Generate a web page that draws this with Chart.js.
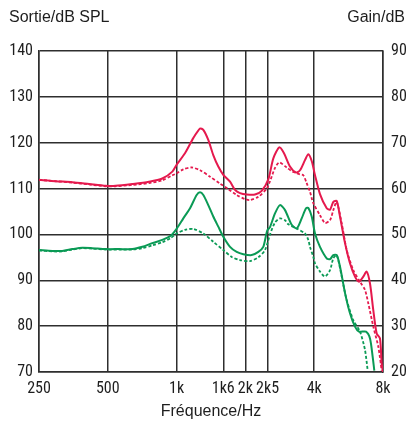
<!DOCTYPE html>
<html>
<head>
<meta charset="utf-8">
<script src="https://cdn.jsdelivr.net/npm/chart.js@4"></script>
<style>
  html, body { margin: 0; padding: 0; background: #ffffff; }
  #wrap { width: 409px; height: 421px; position: relative; }
</style>
</head>
<body>
<div id="wrap"><canvas id="c" width="409" height="421"></canvas></div>
<script>
// Frequency axis ticks (Hz) and their printed labels
const freqTicks = [250, 500, 1000, 1600, 2000, 2500, 4000, 8000];
const freqTickLabels = ['250', '500', '1k', '1k6', '2k', '2k5', '4k', '8k'];

// Output level, dB SPL (left axis) — solid curve
const sortieSolidHz = [250, 296, 350, 414, 490, 541, 640, 757, 866, 958, 1000, 1088, 1183, 1266, 1309, 1376, 1447, 1522, 1601, 1713, 1801, 1894, 2027, 2203, 2357, 2519, 2650, 2815, 2951, 3134, 3329, 3467, 3645, 3769, 3901, 4033, 4240, 4537, 4691, 4850, 5018, 5187, 5457, 5736, 6033, 6281, 6560, 6787, 7018, 7255, 7507, 7760, 7895, 8000];
const sortieSolidDb = [111.9, 111.6, 111.4, 111.0, 110.6, 110.6, 111.0, 111.5, 112.2, 113.7, 115.2, 117.7, 121.0, 123.1, 122.8, 120.6, 117.3, 114.8, 113.0, 111.5, 109.7, 109.0, 108.7, 108.7, 109.5, 112.0, 116.6, 119.0, 117.7, 114.8, 113.5, 114.0, 116.2, 117.5, 116.0, 112.9, 108.8, 105.7, 105.4, 107.1, 107.3, 103.9, 98.1, 93.7, 90.8, 89.7, 90.8, 91.9, 89.3, 83.5, 78.4, 77.3, 71.9, 70.0];

// Output level, dB SPL (left axis) — dashed curve
const sortieDashHz = [250, 296, 350, 414, 490, 541, 640, 757, 866, 958, 1000, 1070, 1164, 1266, 1400, 1548, 1683, 1832, 1992, 2095, 2278, 2480, 2563, 2695, 2815, 3032, 3240, 3467, 3585, 3700, 3834, 3964, 4240, 4460, 4691, 4850, 5018, 5278, 5548, 5931, 6345, 6673, 6897, 7255, 7631, 7895];
const sortieDashDb = [111.9, 111.6, 111.3, 110.9, 110.5, 110.5, 110.8, 111.2, 111.8, 112.9, 113.3, 114.2, 114.6, 114.0, 112.6, 111.1, 109.9, 108.6, 107.7, 107.5, 108.2, 110.0, 111.6, 114.5, 115.7, 114.6, 113.6, 113.1, 112.9, 111.3, 109.3, 106.8, 104.2, 102.5, 103.1, 105.3, 107.1, 102.4, 96.6, 92.2, 89.7, 87.9, 85.0, 79.9, 75.5, 70.3];

// Gain, dB (right axis) — solid curve
const gainSolidHz = [250, 286, 316, 350, 387, 428, 490, 560, 640, 708, 783, 866, 942, 1000, 1070, 1145, 1224, 1266, 1309, 1376, 1447, 1522, 1601, 1713, 1832, 1958, 2131, 2278, 2395, 2490, 2563, 2695, 2834, 2981, 3189, 3354, 3526, 3683, 3769, 3901, 4033, 4240, 4537, 4691, 4850, 5018, 5187, 5457, 5736, 6033, 6281, 6740, 7018, 7210, 7330];
const gainSolidDb = [46.6, 46.4, 46.4, 46.8, 47.1, 47.0, 46.8, 46.8, 46.8, 47.3, 48.1, 48.8, 49.7, 51.2, 53.5, 55.7, 58.6, 59.2, 58.6, 56.4, 53.9, 51.7, 49.5, 47.3, 46.2, 45.7, 45.5, 46.2, 47.3, 50.8, 51.6, 54.6, 56.4, 55.3, 52.1, 51.3, 53.5, 55.7, 55.8, 53.9, 50.2, 47.3, 44.8, 44.6, 45.5, 45.5, 43.0, 37.2, 32.8, 29.9, 28.8, 28.8, 27.3, 23.3, 20.3];

// Gain, dB (right axis) — dashed curve
const gainDashHz = [250, 286, 316, 350, 387, 428, 490, 560, 640, 708, 783, 866, 942, 1000, 1088, 1183, 1309, 1447, 1601, 1742, 1894, 2095, 2278, 2437, 2563, 2695, 2834, 2981, 3082, 3354, 3645, 3769, 3834, 3964, 4033, 4240, 4460, 4691, 4850, 5018, 5278, 5548, 5931, 6345, 6673, 6858];
const gainDashDb = [46.5, 46.3, 46.3, 46.7, 47.0, 46.9, 46.7, 46.7, 46.7, 47.0, 47.6, 48.3, 49.2, 50.2, 51.0, 51.2, 50.2, 48.4, 46.6, 45.1, 44.4, 44.2, 45.0, 46.6, 50.0, 52.6, 53.5, 53.1, 52.2, 51.3, 50.2, 48.8, 47.3, 45.1, 43.7, 41.9, 40.8, 42.2, 44.8, 45.5, 40.8, 35.7, 31.3, 28.8, 24.8, 20.3];

const RED = '#e5194d';
const GREEN = '#0a9a55';
const GRID = '#2e2e2e';
const narrowFont = "'Liberation Sans Narrow', 'Roboto Condensed', 'DejaVu Sans Condensed', 'Liberation Sans', sans-serif";
const textFont = "'Liberation Sans', Arial, sans-serif";

const pairs = (xs, ys) => xs.map((x, i) => ({ x: x, y: ys[i] }));

// Horizontal axis-unit captions above the plot
const headerCaptions = {
  id: 'headerCaptions',
  afterDraw(chart) {
    const ctx = chart.ctx;
    ctx.save();
    ctx.fillStyle = '#1e1e1e';
    ctx.font = '16px ' + textFont;
    ctx.textBaseline = 'middle';
    ctx.textAlign = 'left';
    ctx.fillText('Sortie/dB SPL', 9, 18);
    ctx.textAlign = 'right';
    ctx.fillText('Gain/dB', 405, 18);
    ctx.restore();
  }
};

new Chart(document.getElementById('c'), {
  type: 'line',
  data: {
    datasets: [
      { data: pairs(sortieSolidHz, sortieSolidDb), yAxisID: 'y', borderColor: RED, borderWidth: 2 },
      { data: pairs(sortieDashHz, sortieDashDb), yAxisID: 'y', borderColor: RED, borderWidth: 1.8, borderDash: [3, 2] },
      { data: pairs(gainSolidHz, gainSolidDb), yAxisID: 'y2', borderColor: GREEN, borderWidth: 2 },
      { data: pairs(gainDashHz, gainDashDb), yAxisID: 'y2', borderColor: GREEN, borderWidth: 1.8, borderDash: [3, 2] }
    ]
  },
  options: {
    responsive: false,
    animation: false,
    devicePixelRatio: 1,
    layout: { padding: { top: 51, left: 0, right: 0, bottom: 0 } },
    elements: {
      point: { radius: 0 },
      line: { tension: 0.25, fill: false, borderCapStyle: 'butt', borderJoinStyle: 'round' }
    },
    plugins: {
      legend: { display: false },
      tooltip: { enabled: false },
      title: { display: false }
    },
    scales: {
      x: {
        type: 'logarithmic',
        min: 250,
        max: 8000,
        afterBuildTicks(scale) {
          scale.ticks = freqTicks.map(v => ({ value: v }));
        },
        afterFit(scale) { scale.height = 49; },
        ticks: {
          autoSkip: false,
          maxRotation: 0,
          padding: 7,
          color: '#1e1e1e',
          font: { family: narrowFont, size: 16 },
          callback(value) {
            const i = freqTicks.indexOf(value);
            return i >= 0 ? freqTickLabels[i] : '';
          }
        },
        grid: { color: GRID, lineWidth: 1.5, drawTicks: false },
        border: { color: GRID, width: 1.5 },
        title: {
          display: true,
          text: 'Fréquence/Hz',
          color: '#1e1e1e',
          font: { family: textFont, size: 16 },
          padding: { top: 1, bottom: 0 }
        }
      },
      y: {
        position: 'left',
        min: 70,
        max: 140,
        afterFit(scale) { scale.width = 39; },
        ticks: {
          stepSize: 10,
          padding: 6,
          color: '#1e1e1e',
          font: { family: narrowFont, size: 16 }
        },
        grid: { color: GRID, lineWidth: 1.5, drawTicks: false },
        border: { color: GRID, width: 1.5 }
      },
      y2: {
        position: 'right',
        min: 20,
        max: 90,
        afterFit(scale) { scale.width = 26; },
        ticks: {
          stepSize: 10,
          padding: 8,
          color: '#1e1e1e',
          font: { family: narrowFont, size: 16 }
        },
        grid: { display: false, drawTicks: false },
        border: { color: GRID, width: 1.5 }
      }
    }
  },
  plugins: [headerCaptions]
});
</script>
</body>
</html>
